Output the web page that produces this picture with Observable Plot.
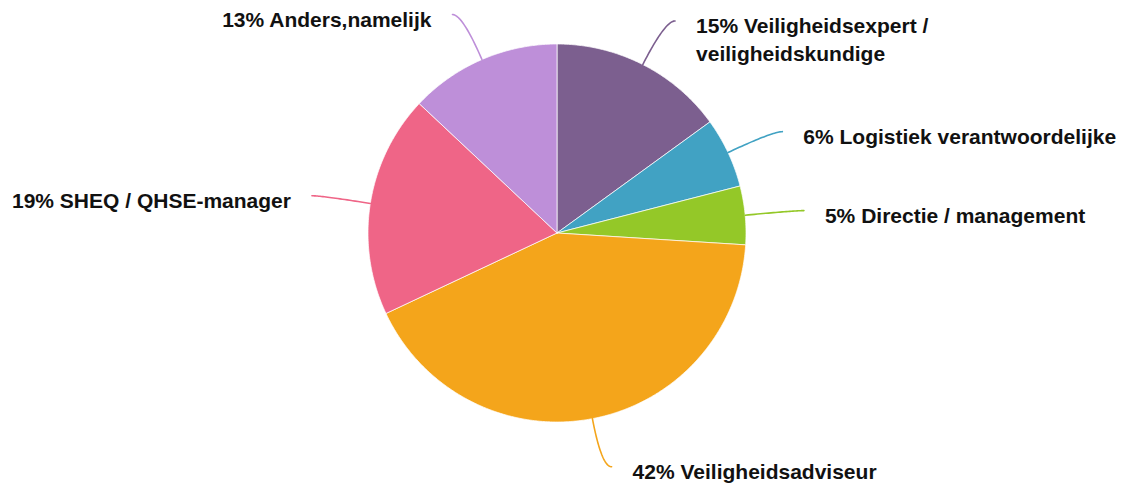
<!DOCTYPE html>
<html>
<head>
<meta charset="utf-8">
<script src="https://cdn.jsdelivr.net/npm/d3@7"></script>
<script src="https://cdn.jsdelivr.net/npm/@observablehq/plot@0.6"></script>
<style>
  html, body { margin: 0; padding: 0; background: #ffffff; }
  #chart svg { display: block; }
</style>
</head>
<body>
<div id="chart"></div>
<script>
// ---- data (clockwise from 12 o'clock) ----
const names = [
  "Veiligheidsexpert /\nveiligheidskundige",
  "Logistiek verantwoordelijke",
  "Directie / management",
  "Veiligheidsadviseur",
  "SHEQ / QHSE-manager",
  "Anders,namelijk"
];
const shares = [15, 6, 5, 42, 19, 13];
const colors = ["#7c5f8f", "#41a2c3", "#94c828", "#f4a51b", "#ef6587", "#be8fd9"];

// ---- layout ----
const W = 1124, H = 487;
const CX = 556.5, CY = 232.5, R = 189;   // pie centre and radius in pixels

const arcs = d3.pie().sort(null).value(d => d)(shares);
const slices = [], connectors = [], labels = [];

arcs.forEach((a, i) => {
  const key = names[i];
  const n = Math.max(2, Math.ceil((a.endAngle - a.startAngle) / (Math.PI / 360)));
  slices.push({key, x: 0, y: 0});
  for (let k = 0; k <= n; k++) {
    const t = a.startAngle + (a.endAngle - a.startAngle) * k / n;
    slices.push({key, x: Math.sin(t), y: Math.cos(t)});
  }
  slices.push({key, x: 0, y: 0});

  const m = (a.startAngle + a.endAngle) / 2;
  const side = Math.sin(m) >= 0 ? 1 : -1;
  const p0 = [Math.sin(m), Math.cos(m)];
  const ext = 1 + 49 / R;
  const p1 = [ext * Math.sin(m), ext * Math.cos(m)];
  const p2 = [p1[0] + side * 10 / R, p1[1]];
  for (let k = 0; k <= 30; k++) {
    const t = k / 30, u = 1 - t;
    connectors.push({
      key,
      x: u * u * p0[0] + 2 * u * t * p1[0] + t * t * p2[0],
      y: u * u * p0[1] + 2 * u * t * p1[1] + t * t * p2[1]
    });
  }
  labels.push({
    key, side,
    x: p2[0] + side * 21 / R,
    y: p2[1] + 7 / R,
    text: `${shares[i]}% ${names[i]}`
  });
});

const textStyle = {
  text: "text",
  fill: "#111111",
  fontSize: 21,
  fontWeight: "bold",
  fontFamily: "'Liberation Sans', Arial, Helvetica, sans-serif",
  lineAnchor: "top",
  lineHeight: 1.31
};

const chart = Plot.plot({
  width: W,
  height: H,
  margin: 0,
  x: {domain: [-CX / R, (W - CX) / R], axis: null},
  y: {domain: [-(H - CY) / R, CY / R], axis: null},
  color: {domain: names, range: colors},
  style: {background: "#ffffff"},
  marks: [
    Plot.line(slices, {x: "x", y: "y", z: "key", fill: "key", stroke: "#ffffff", strokeWidth: 0.8, strokeOpacity: 0.9, curve: "linear-closed"}),
    Plot.line(connectors, {x: "x", y: "y", z: "key", stroke: "key", strokeWidth: 1.6}),
    Plot.text(labels.filter(d => d.side > 0), {x: "x", y: "y", ...textStyle, textAnchor: "start"}),
    Plot.text(labels.filter(d => d.side < 0), {x: "x", y: "y", ...textStyle, textAnchor: "end"})
  ]
});
document.getElementById("chart").appendChild(chart);
</script>
</body>
</html>
